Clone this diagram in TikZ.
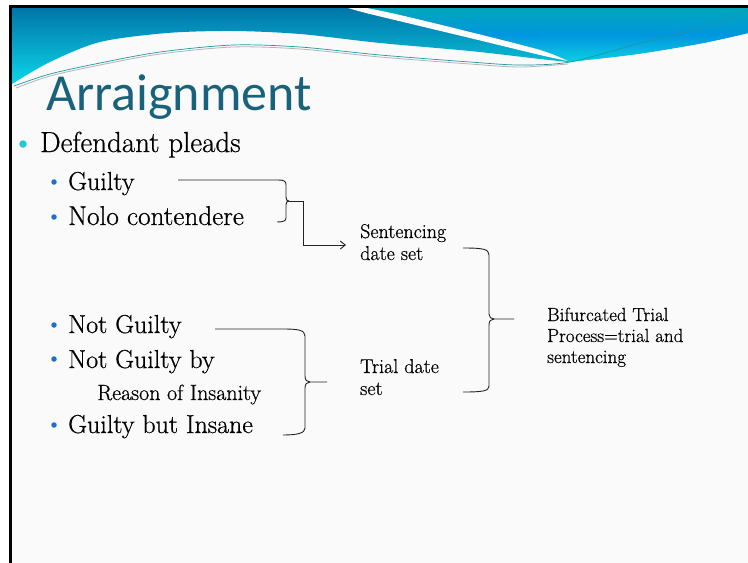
\documentclass[tikz,border=0pt]{standalone}
\usepackage{fontspec}
\setmainfont{Latin Modern Roman}[FakeBold=0.6]
\newfontfamily\titlefont{Carlito}
\usetikzlibrary{arrows.meta}

\definecolor{slidebg}{RGB}{250,250,250}
\definecolor{bandtop}{RGB}{0,116,168}
\definecolor{bandbot}{RGB}{12,214,232}
\definecolor{wavetop}{RGB}{0,168,186}
\definecolor{wavemid}{RGB}{0,150,222}
\definecolor{wavebot}{RGB}{14,206,226}
\definecolor{titleteal}{RGB}{24,98,124}
\definecolor{dotcyan}{RGB}{34,200,214}
\definecolor{dotblue}{RGB}{30,112,200}
\definecolor{inkgray}{RGB}{35,35,35}
\definecolor{seamteal}{RGB}{30,150,165}
\definecolor{seamgray}{RGB}{175,182,186}

\begin{document}
\begin{tikzpicture}[x=1pt,y=-1pt,
  lvlone/.style={anchor=base west, inner sep=0pt, font=\fontsize{29}{32}\selectfont, text=black},
  lvltwo/.style={anchor=base west, inner sep=0pt, font=\fontsize{26}{30}\selectfont, text=black},
  lvlsub/.style={anchor=base west, inner sep=0pt, font=\fontsize{22}{24}\selectfont, text=black},
  note/.style={anchor=base west, inner sep=0pt, font=\fontsize{20}{22}\selectfont, text=black, align=left},
  bigdot/.style={circle, fill=dotcyan, inner sep=0pt, minimum size=7.5pt},
  smalldot/.style={circle, fill=dotblue, inner sep=0pt, minimum size=5.5pt},
  link/.style={draw=inkgray, line width=0.9pt},
]
\useasboundingbox (0,0) rectangle (748,563);
\fill[white] (0,0) rectangle (748,563);
\fill[slidebg] (12,7) rectangle (748,563);

% header band
\path[top color=bandtop, bottom color=bandbot]
  (12,7) -- (748,7) -- (748,33)
  -- plot[smooth] coordinates {(748,33) (703,43) (637,54) (568,62)}
  -- plot[smooth] coordinates {(568,62) (540,59) (470,51) (380,43) (300,34) (233,31) (167,33) (100,42) (50,62) (12,84)}
  -- cycle;
% right-hand sweep
\path[top color=wavetop, bottom color=wavebot, middle color=wavemid]
  (360,7) -- (748,7) -- (748,33)
  -- plot[smooth] coordinates {(748,33) (703,43) (637,54) (568,62)}
  -- plot[smooth] coordinates {(568,61) (540,51) (470,32) (400,16) (360,7)}
  -- cycle;
% white ribbon between the two
\fill[white]
  plot[smooth] coordinates {(345,7) (370,14) (470,38) (540,55) (568,61)}
  -- plot[smooth] coordinates {(568,61) (540,50) (470,32) (400,15) (362,7)}
  -- cycle;
% thin seam lines
\draw[seamgray, line width=0.8pt] plot[smooth] coordinates {(16,88) (50,76) (100,65) (160,54) (233,47) (300,49) (380,57) (470,64) (520,67) (568,64)};
\draw[seamteal, line width=0.7pt] plot[smooth] coordinates {(14,86) (50,74) (100,63) (160,52) (233,45) (300,47) (380,55) (470,62) (520,65) (570,62) (637,44) (703,27) (748,10)};

% frame
\fill[black] (9,5) rectangle (748,7.5);
\fill[black] (9,5) rectangle (12,563);

% title
\node[anchor=base west, inner sep=0pt, font=\titlefont\fontsize{52}{56}\selectfont, text=titleteal] (title) at (46,110) {Arraignment};

% bullets and items
\node[bigdot] (d0) at (23,144) {};
\node[lvlone] (pleads) at (40,152) {Defendant pleads};
\node[smalldot] (d1) at (54,182) {};
\node[lvltwo] (guilty) at (68,190) {Guilty};
\node[smalldot] (d2) at (54,217) {};
\node[lvltwo, font=\fontsize{27.2}{30}\selectfont] (nolo) at (68,225) {Nolo contendere};
\node[smalldot] (d3) at (54,325) {};
\node[lvltwo] (notguilty) at (68,333) {Not Guilty};
\node[smalldot] (d4) at (54,359) {};
\node[lvltwo] (ngri) at (68,368) {Not Guilty by};
\node[lvlsub] (reason) at (97,400) {Reason of Insanity};
\node[smalldot] (d5) at (54,425) {};
\node[lvltwo] (gbi) at (68,433) {Guilty but Insane};

% outcomes (base anchor sits on the last line)
\node[note] (sentdate) at (360,260) {Sentencing\\date set};
\node[note] (trialdate) at (360,395) {Trial date\\set};
\node[note, font=\fontsize{19}{21}\selectfont] (bifurc) at (547,363) {Bifurcated Trial\\Process=trial and\\sentencing};

% connector end points
\coordinate (ga) at (178,180);
\coordinate (gb) at (278,180);
\coordinate (na) at (277,222);
\coordinate (tipA) at (289,201);
\coordinate (arrowend) at (346,245);
\coordinate (nga) at (215,329);
\coordinate (ngb) at (283,329);
\coordinate (gbia) at (283,435);
\coordinate (tipB) at (310,382);
\coordinate (tipBend) at (327,382);
\coordinate (sa) at (463,248);
\coordinate (ta) at (463,392);
\coordinate (tipC) at (494,319);
\coordinate (tipCend) at (514,319);

% guilty / nolo brace and arrow
\draw[link] (ga) -- (gb) .. controls (284,180) and (286,181) .. (286,185) -- (286,197)
  .. controls (286,200) and (287,201) .. (tipA);
\draw[link] (tipA) .. controls (287,201) and (286,202) .. (286,205) -- (286,218)
  .. controls (286,221) and (283,222) .. (na);
\draw[link, -{Straight Barb[length=5pt,width=8pt]}] (tipA) -- (303,201) |- (arrowend);

% not guilty brace
\draw[link] (nga) -- (ngb) .. controls (298,329) and (305,330) .. (305,336) -- (305,376)
  .. controls (305,380) and (307,382) .. (tipB) -- (tipBend);
\draw[link] (tipB) .. controls (307,382) and (305,384) .. (305,388) -- (305,428)
  .. controls (305,433) and (298,435) .. (gbia);

% bifurcated brace
\draw[link] (sa) .. controls (483,248) and (489,249) .. (489,255) -- (489,314)
  .. controls (489,317) and (491,319) .. (tipC) -- (tipCend);
\draw[link] (tipC) .. controls (491,319) and (489,321) .. (489,325) -- (489,386)
  .. controls (489,391) and (483,392) .. (ta);
\end{tikzpicture}
\end{document}
